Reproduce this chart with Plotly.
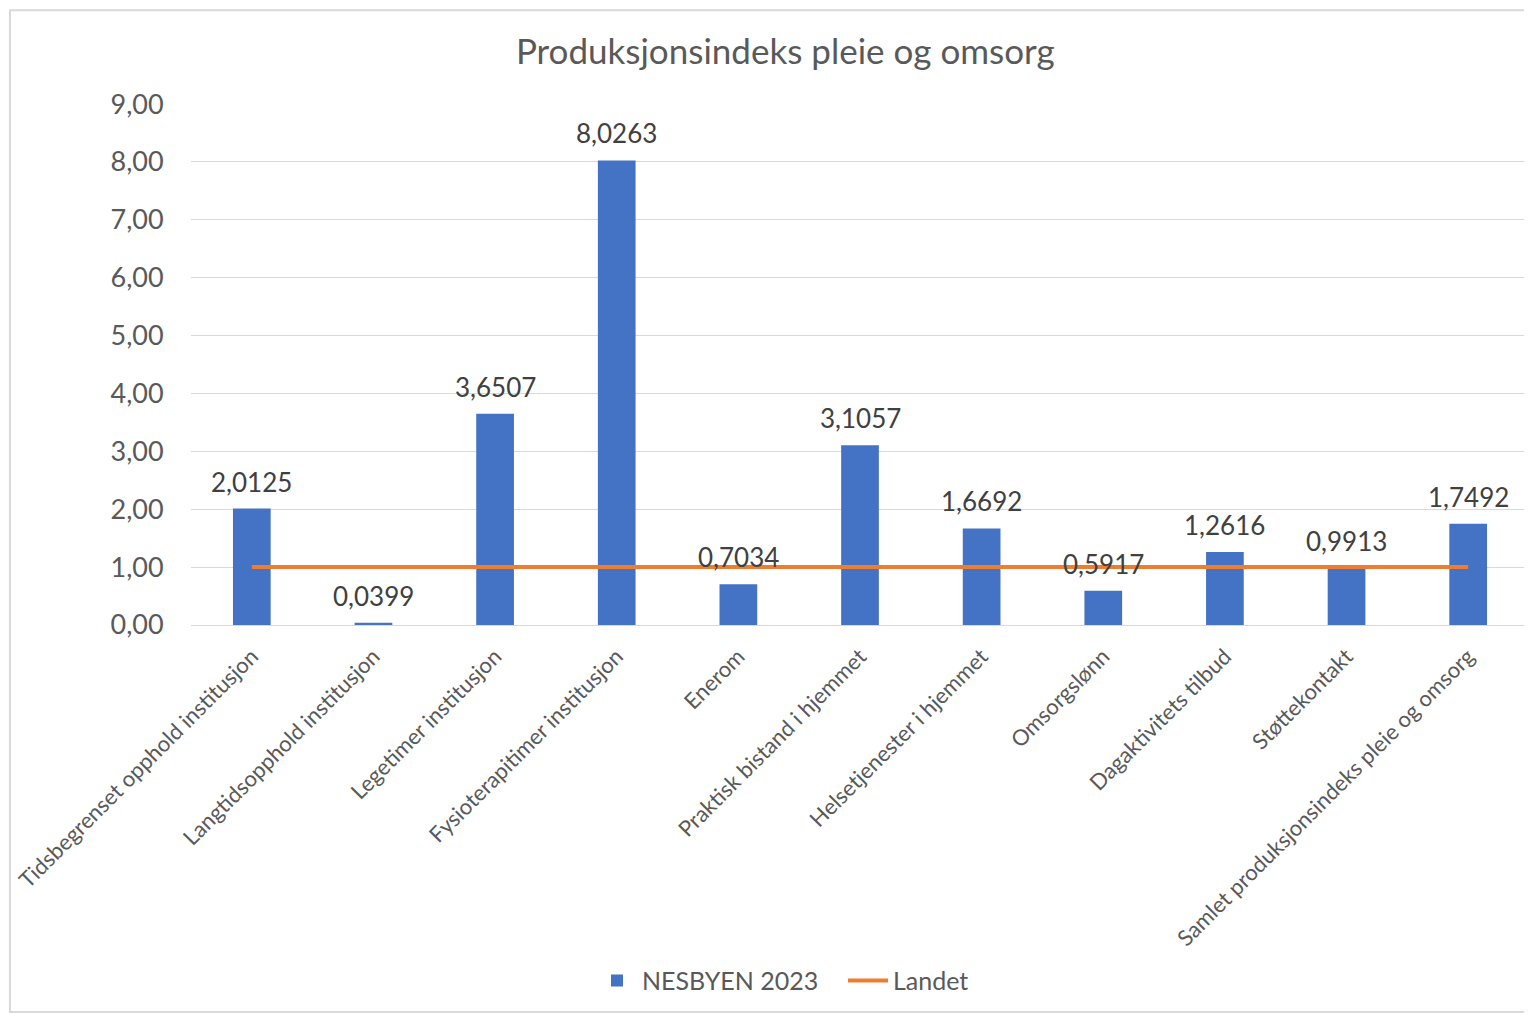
import plotly.graph_objects as go

categories = [
    "Tidsbegrenset opphold institusjon",
    "Langtidsopphold institusjon",
    "Legetimer institusjon",
    "Fysioterapitimer institusjon",
    "Enerom",
    "Praktisk bistand i hjemmet",
    "Helsetjenester i hjemmet",
    "Omsorgslønn",
    "Dagaktivitets tilbud",
    "Støttekontakt",
    "Samlet produksjonsindeks pleie og omsorg",
]
nesbyen_2023 = [2.0125, 0.0399, 3.6507, 8.0263, 0.7034, 3.1057, 1.6692, 0.5917, 1.2616, 0.9913, 1.7492]
landet = [1, 1, 1, 1, 1, 1, 1, 1, 1, 1, 1]

FONT = "Lato, 'Open Sans', sans-serif"

fig = go.Figure()
fig.add_trace(go.Bar(
    x=categories, y=nesbyen_2023, name="NESBYEN 2023",
    marker=dict(color="#4472C4", line=dict(width=0)),
))
fig.add_trace(go.Scatter(
    x=categories, y=landet, name="Landet", mode="lines",
    line=dict(color="#ED7D31", width=4),
))

# data labels above the bars, anchored on the data values
for c, v in zip(categories, nesbyen_2023):
    fig.add_annotation(x=c, y=v, text=f"{v:.4f}".replace(".", ","), showarrow=False,
                       xanchor="center", yanchor="bottom", yshift=9,
                       font=dict(size=26, color="#404040", family=FONT))

fig.update_layout(
    width=1524, height=1005,
    margin=dict(l=183, r=3, t=96, b=388),
    paper_bgcolor="white", plot_bgcolor="white",
    separators=", ",
    font=dict(family=FONT, color="#595959", size=24),
    title=dict(text="Produksjonsindeks pleie og omsorg", x=0.51, xanchor="center",
               y=0.956, yanchor="middle", font=dict(size=35, color="#595959", family=FONT)),
    bargap=0.69,
    showlegend=True,
    legend=dict(orientation="h", x=0.2997, xanchor="left", y=-0.683, yanchor="middle",
                font=dict(size=25, color="#595959", family=FONT), itemwidth=40,
                entrywidth=196, traceorder="normal"),
    shapes=[dict(type="rect", xref="paper", yref="paper",
                 x0=-0.1353, x1=1.0012, y0=-0.743, y1=1.180,
                 line=dict(color="#D9D9D9", width=2), layer="below")],
)
fig.update_yaxes(range=[0, 9.001], tickvals=[0, 1, 2, 3, 4, 5, 6, 7, 8, 9], tickformat=".2f",
                 showgrid=True, gridcolor="#D9D9D9", gridwidth=1, zeroline=False, showline=False,
                 ticks="outside", ticklen=21, tickcolor="rgba(0,0,0,0)",
                 tickfont=dict(size=27, color="#595959", family=FONT))
fig.update_xaxes(tickangle=-45, showgrid=False, showline=True, linecolor="#D9D9D9",
                 linewidth=1, ticks="outside", ticklen=9, tickcolor="rgba(0,0,0,0)",
                 tickfont=dict(size=22, color="#595959", family=FONT))

fig.write_html("out.html")
